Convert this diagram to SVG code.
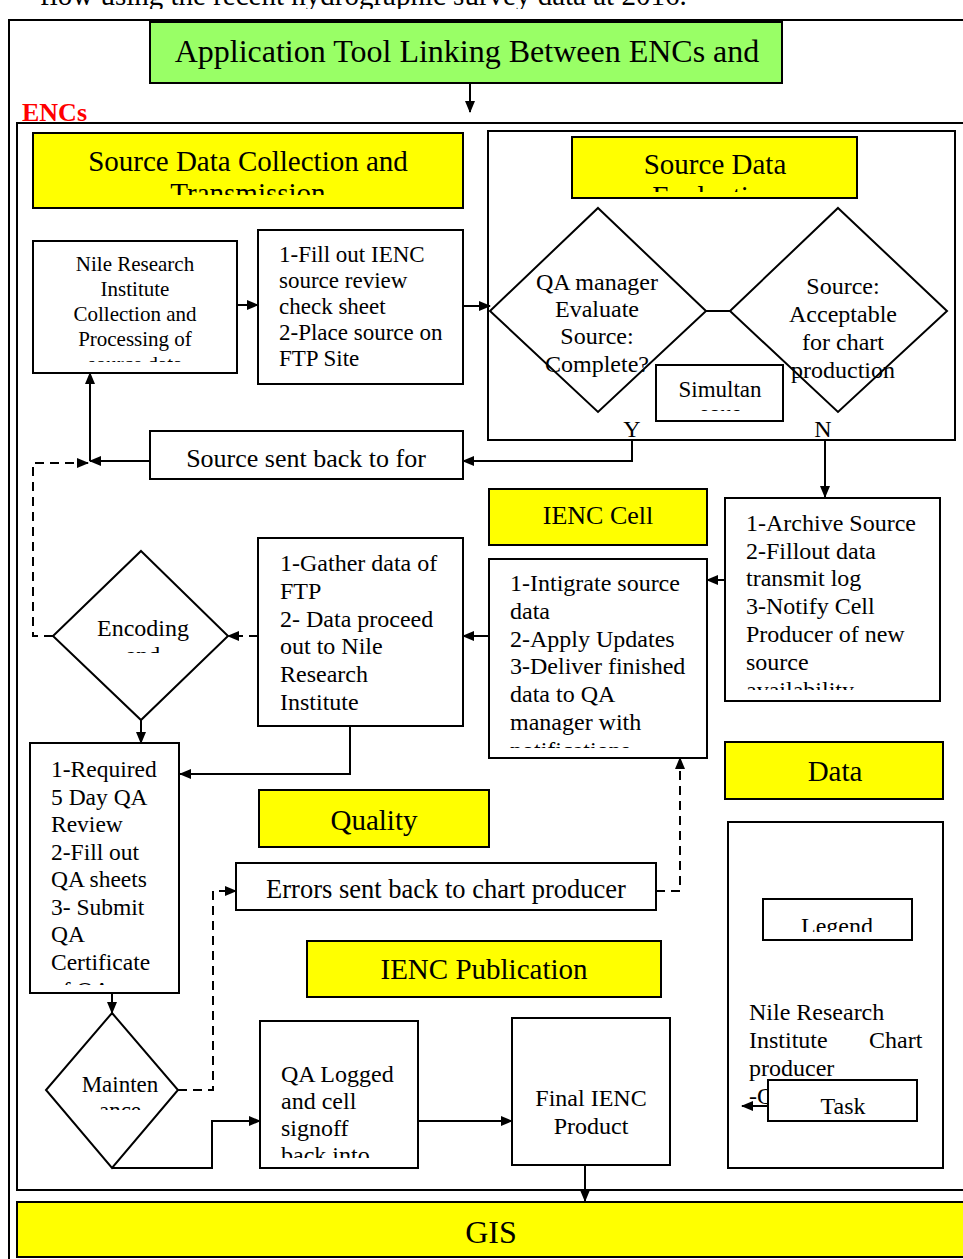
<svg xmlns="http://www.w3.org/2000/svg" width="963" height="1259" viewBox="0 0 963 1259">
<style>
text{font-family:"Liberation Serif","Times New Roman",serif;fill:#000}
.box{fill:#fff;stroke:#000;stroke-width:2}
.yel{fill:#ffff00;stroke:#000;stroke-width:2}
.frame{fill:none;stroke:#000;stroke-width:2}
.c{text-anchor:middle}
.ln{fill:none;stroke:#000;stroke-width:2}
.da{fill:none;stroke:#000;stroke-width:2;stroke-dasharray:9,6}
</style>
<defs>
<marker id="ah" markerWidth="12" markerHeight="10" refX="11" refY="5" orient="auto" markerUnits="userSpaceOnUse">
<path d="M0,0 L12,5 L0,10 Z" fill="#000"/>
</marker>
<clipPath id="cpSDC"><rect x="33" y="133" width="430" height="62"/></clipPath>
<clipPath id="cpSDE"><rect x="572" y="137" width="285" height="55"/></clipPath>
<clipPath id="cpNile"><rect x="33" y="241" width="204" height="121"/></clipPath>
<clipPath id="cpSim"><rect x="656" y="365" width="127" height="46"/></clipPath>
<clipPath id="cpArch"><rect x="725" y="498" width="215" height="192"/></clipPath>
<clipPath id="cpInt"><rect x="489" y="559" width="218" height="189"/></clipPath>
<clipPath id="cpEnc"><rect x="53" y="551" width="175" height="102"/></clipPath>
<clipPath id="cpQA"><rect x="30" y="743" width="149" height="242"/></clipPath>
<clipPath id="cpMnt"><rect x="46" y="1013" width="132" height="97"/></clipPath>
<clipPath id="cpLog"><rect x="260" y="1021" width="158" height="137"/></clipPath>
<clipPath id="cpLeg"><rect x="763" y="899" width="149" height="33"/></clipPath>
<clipPath id="cpTop"><rect x="0" y="0" width="963" height="9"/></clipPath>
</defs>

<text x="40" y="5" font-size="29" clip-path="url(#cpTop)">flow using the recent hydrographic survey data at 2016.</text>

<rect class="frame" x="9" y="20" width="970" height="1260"/>

<g id="title">
<rect x="150" y="22" width="632" height="61" fill="#99ff66" stroke="#000" stroke-width="2"/>
<text class="c" x="467" y="62" font-size="32">Application Tool Linking Between ENCs and</text>
</g>

<text x="22" y="121" font-size="26" font-weight="bold" style="fill:#ff0000">ENCs</text>

<rect class="frame" x="17" y="123" width="960" height="1067"/>

<g id="sdc">
<rect class="yel" x="33" y="133" width="430" height="75"/>
<g clip-path="url(#cpSDC)">
<text class="c" x="248" y="171" font-size="29">Source Data Collection and</text>
<text class="c" x="248" y="203" font-size="29">Transmission</text>
</g>
</g>

<g id="sde">
<rect class="frame" x="488" y="131" width="467" height="309"/>
<rect class="yel" x="572" y="137" width="285" height="61"/>
<g clip-path="url(#cpSDE)">
<text class="c" x="715" y="174" font-size="29">Source Data</text>
<text class="c" x="715" y="206" font-size="29">Evaluation</text>
</g>
</g>

<g id="qa-manager">
<polygon class="box" points="598,208 706,311 598,412 490,311"/>
<text class="c" x="597" y="290" font-size="24">QA manager</text>
<text class="c" x="597" y="317" font-size="24">Evaluate</text>
<text class="c" x="597" y="344" font-size="24">Source:</text>
<text class="c" x="597" y="372" font-size="24">Complete?</text>
</g>

<g id="acceptable">
<polygon class="box" points="838,208 947,311 838,412 730,311"/>
<text class="c" x="843" y="294" font-size="24">Source:</text>
<text class="c" x="843" y="322" font-size="24">Acceptable</text>
<text class="c" x="843" y="350" font-size="24">for chart</text>
<text class="c" x="843" y="378" font-size="24">production</text>
</g>

<g id="simultan">
<rect class="box" x="656" y="365" width="127" height="56"/>
<g clip-path="url(#cpSim)">
<text class="c" x="720" y="397" font-size="23">Simultan</text>
<text class="c" x="720" y="421" font-size="23">eous</text>
</g>
</g>

<text class="c" x="632" y="437" font-size="24">Y</text>
<text class="c" x="823" y="437" font-size="24">N</text>

<g id="nile">
<rect class="box" x="33" y="241" width="204" height="132"/>
<g clip-path="url(#cpNile)">
<text class="c" x="135" y="271" font-size="21">Nile Research</text>
<text class="c" x="135" y="296" font-size="21">Institute</text>
<text class="c" x="135" y="321" font-size="21">Collection and</text>
<text class="c" x="135" y="346" font-size="21">Processing of</text>
<text class="c" x="135" y="371" font-size="21">source data</text>
</g>
</g>

<g id="fillout">
<rect class="box" x="258" y="230" width="205" height="154"/>
<text x="279" y="262" font-size="23">1-Fill out IENC</text>
<text x="279" y="288" font-size="23">source review</text>
<text x="279" y="314" font-size="23">check sheet</text>
<text x="279" y="340" font-size="23">2-Place source on</text>
<text x="279" y="366" font-size="23">FTP Site</text>
</g>

<g id="sentback">
<rect class="box" x="150" y="431" width="313" height="48"/>
<text class="c" x="306" y="467" font-size="26">Source sent back to for</text>
</g>

<g id="ienc-cell">
<rect class="yel" x="489" y="489" width="218" height="56"/>
<text class="c" x="598" y="524" font-size="26">IENC Cell</text>
</g>

<g id="archive">
<rect class="box" x="725" y="498" width="215" height="203"/>
<g clip-path="url(#cpArch)">
<text x="746" y="531" font-size="24">1-Archive Source</text>
<text x="746" y="559" font-size="24">2-Fillout data</text>
<text x="746" y="586" font-size="24">transmit log</text>
<text x="746" y="614" font-size="24">3-Notify Cell</text>
<text x="746" y="642" font-size="24">Producer of new</text>
<text x="746" y="670" font-size="24">source</text>
<text x="746" y="698" font-size="24">availability</text>
</g>
</g>

<g id="integrate">
<rect class="box" x="489" y="559" width="218" height="199"/>
<g clip-path="url(#cpInt)">
<text x="510" y="591" font-size="24">1-Intigrate source</text>
<text x="510" y="619" font-size="24">data</text>
<text x="510" y="647" font-size="24">2-Apply Updates</text>
<text x="510" y="674" font-size="24">3-Deliver finished</text>
<text x="510" y="702" font-size="24">data to QA</text>
<text x="510" y="730" font-size="24">manager with</text>
<text x="510" y="758" font-size="24">notifications</text>
</g>
</g>

<g id="gather">
<rect class="box" x="258" y="538" width="205" height="188"/>
<text x="280" y="571" font-size="24">1-Gather data of</text>
<text x="280" y="599" font-size="24">FTP</text>
<text x="280" y="627" font-size="24">2- Data proceed</text>
<text x="280" y="654" font-size="24">out to Nile</text>
<text x="280" y="682" font-size="24">Research</text>
<text x="280" y="710" font-size="24">Institute</text>
</g>

<g id="encoding">
<polygon class="box" points="141,551 228,636 141,720 53,636"/>
<g clip-path="url(#cpEnc)">
<text class="c" x="143" y="636" font-size="24">Encoding</text>
<text class="c" x="143" y="663" font-size="24">and</text>
</g>
</g>

<g id="qa-review">
<rect class="box" x="30" y="743" width="149" height="250"/>
<g clip-path="url(#cpQA)">
<text x="51" y="777" font-size="23.5">1-Required</text>
<text x="51" y="805" font-size="23.5">5 Day QA</text>
<text x="51" y="832" font-size="23.5">Review</text>
<text x="51" y="860" font-size="23.5">2-Fill out</text>
<text x="51" y="887" font-size="23.5">QA sheets</text>
<text x="51" y="915" font-size="23.5">3- Submit</text>
<text x="51" y="942" font-size="23.5">QA</text>
<text x="51" y="970" font-size="23.5">Certificate</text>
<text x="51" y="998" font-size="23.5">of QA</text>
</g>
</g>

<g id="quality">
<rect class="yel" x="259" y="790" width="230" height="57"/>
<text class="c" x="374" y="830" font-size="29">Quality</text>
</g>

<g id="errors">
<rect class="box" x="236" y="863" width="420" height="47"/>
<text class="c" x="446" y="898" font-size="26.5">Errors sent back to chart producer</text>
</g>

<g id="ienc-pub">
<rect class="yel" x="307" y="941" width="354" height="56"/>
<text class="c" x="484" y="979" font-size="29">IENC Publication</text>
</g>

<g id="maintenance">
<polygon class="box" points="112,1013 178,1090 112,1168 46,1090"/>
<g clip-path="url(#cpMnt)">
<text class="c" x="120" y="1092" font-size="23">Mainten</text>
<text class="c" x="120" y="1118" font-size="23">ance</text>
</g>
</g>

<g id="qa-logged">
<rect class="box" x="260" y="1021" width="158" height="147"/>
<g clip-path="url(#cpLog)">
<text x="281" y="1082" font-size="24">QA Logged</text>
<text x="281" y="1109" font-size="24">and cell</text>
<text x="281" y="1136" font-size="24">signoff</text>
<text x="281" y="1163" font-size="24">back into</text>
</g>
</g>

<g id="final">
<rect class="box" x="512" y="1018" width="158" height="147"/>
<text class="c" x="591" y="1106" font-size="24">Final IENC</text>
<text class="c" x="591" y="1134" font-size="24">Product</text>
</g>

<g id="data">
<rect class="yel" x="725" y="742" width="218" height="57"/>
<text class="c" x="835" y="781" font-size="29">Data</text>
</g>

<g id="legend">
<rect class="frame" x="728" y="822" width="215" height="346"/>
<rect class="box" x="763" y="899" width="149" height="41"/>
<g clip-path="url(#cpLeg)">
<text class="c" x="837" y="934" font-size="24">Legend</text>
</g>
<text x="749" y="1020" font-size="24">Nile Research</text>
<text x="749" y="1048" font-size="24">Institute</text>
<text x="869" y="1048" font-size="24">Chart</text>
<text x="749" y="1076" font-size="24">producer</text>
<text x="749" y="1104" font-size="24">-Q</text>
<rect class="box" x="768" y="1080" width="149" height="41"/>
<text class="c" x="843" y="1114" font-size="24">Task</text>
</g>

<g id="gis">
<rect class="yel" x="17" y="1202" width="960" height="55"/>
<text class="c" x="491" y="1243" font-size="32">GIS</text>
</g>

<g id="connectors">
<path class="ln" d="M470,83 V112" marker-end="url(#ah)"/>
<path class="ln" d="M237,305 H258" marker-end="url(#ah)"/>
<path class="ln" d="M463,306 H490" marker-end="url(#ah)"/>
<path class="ln" d="M706,311 H730"/>
<path class="ln" d="M632,441 V461 H463" marker-end="url(#ah)"/>
<path class="ln" d="M150,461 H90" marker-end="url(#ah)"/>
<path class="ln" d="M90,461 V373" marker-end="url(#ah)"/>
<path class="da" d="M53,636 H33 V463 H88" marker-end="url(#ah)"/>
<path class="ln" d="M825,441 V497" marker-end="url(#ah)"/>
<path class="ln" d="M725,580 H707" marker-end="url(#ah)"/>
<path class="ln" d="M489,636 H463" marker-end="url(#ah)"/>
<path class="da" d="M258,636 H228" marker-end="url(#ah)"/>
<path class="ln" d="M350,726 V774 H180" marker-end="url(#ah)"/>
<path class="ln" d="M141,720 V743" marker-end="url(#ah)"/>
<path class="ln" d="M112,993 V1013" marker-end="url(#ah)"/>
<path class="da" d="M656,891 H680 V758" marker-end="url(#ah)"/>
<path class="da" d="M178,1090 H213 V891 H236" marker-end="url(#ah)"/>
<path class="ln" d="M112,1168 H212 V1121 H260" marker-end="url(#ah)"/>
<path class="ln" d="M418,1121 H512" marker-end="url(#ah)"/>
<path class="ln" d="M585,1165 V1201" marker-end="url(#ah)"/>
<path class="ln" d="M768,1106 H742" marker-end="url(#ah)"/>
</g>
</svg>
